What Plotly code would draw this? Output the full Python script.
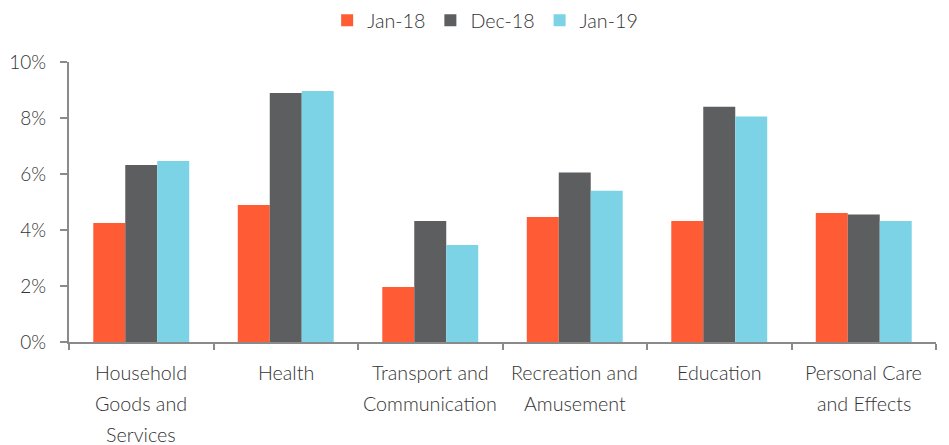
import plotly.graph_objects as go

categories = ["Household Goods and Services", "Health", "Transport and Communication",
              "Recreation and Amusement", "Education", "Personal Care and Effects"]
label_lines = [["Household", "Goods and", "Services"], ["Health"],
               ["Transport and", "Communication"], ["Recreation and", "Amusement"],
               ["Education"], ["Personal Care", "and Effects"]]
jan18 = [4.25, 4.89, 1.96, 4.46, 4.32, 4.61]
dec18 = [6.32, 8.89, 4.32, 6.05, 8.40, 4.55]
jan19 = [6.46, 8.96, 3.46, 5.40, 8.05, 4.32]
series_names = ["Jan-18", "Dec-18", "Jan-19"]
series_colors = ["#FF5C35", "#5D5E60", "#7DD3E6"]
y_ticks = [0, 2, 4, 6, 8, 10]
y_tick_labels = ["0%", "2%", "4%", "6%", "8%", "10%"]

FONT = "Lato"
TEXT_COLOR = "#333333"
AXIS_COLOR = "#8a8a8a"
FS = 19.7

fig = go.Figure()
for name, vals, col in zip(series_names, [jan18, dec18, jan19], series_colors):
    fig.add_trace(go.Bar(x=categories, y=vals, name=name,
                         marker=dict(color=col, line=dict(width=0))))

annotations = []
for cat, lines in zip(categories, label_lines):
    for i, ln in enumerate(lines):
        annotations.append(dict(x=cat, xref="x", y=0, yref="paper", text=ln,
                                showarrow=False, yanchor="middle", xanchor="center",
                                yshift=-30 - 31 * i,
                                font=dict(family=FONT, size=FS, color=TEXT_COLOR, weight=300)))

fig.update_layout(
    width=949, height=445,
    margin=dict(l=61, r=21, t=54, b=111, autoexpand=False),
    paper_bgcolor="white", plot_bgcolor="white",
    barmode="group", bargap=0.336, bargroupgap=0,
    font=dict(family=FONT, size=FS, color=TEXT_COLOR, weight=300),
    legend=dict(orientation="h", x=0.48, xanchor="center", y=1.218, yref="paper",
                yanchor="top", font=dict(family=FONT, size=FS, color=TEXT_COLOR, weight=300),
                itemwidth=30, tracegroupgap=0),
    annotations=annotations,
    showlegend=True,
)
fig.update_xaxes(showline=True, linecolor=AXIS_COLOR, linewidth=2, automargin=False,
                 ticks="outside", tickson="boundaries", ticklen=6, tickcolor=AXIS_COLOR,
                 tickwidth=2, showticklabels=False, showgrid=False, zeroline=False)
fig.update_yaxes(range=[0, 10], tickmode="array", tickvals=y_ticks, ticktext=y_tick_labels,
                 showline=True, linecolor=AXIS_COLOR, linewidth=2, automargin=False,
                 ticks="outside", ticklen=7, tickcolor=AXIS_COLOR, tickwidth=2,
                 ticklabelstandoff=10, showgrid=False, zeroline=False,
                 tickfont=dict(family=FONT, size=19, color=TEXT_COLOR, weight=300))

fig.write_html("out.html")
